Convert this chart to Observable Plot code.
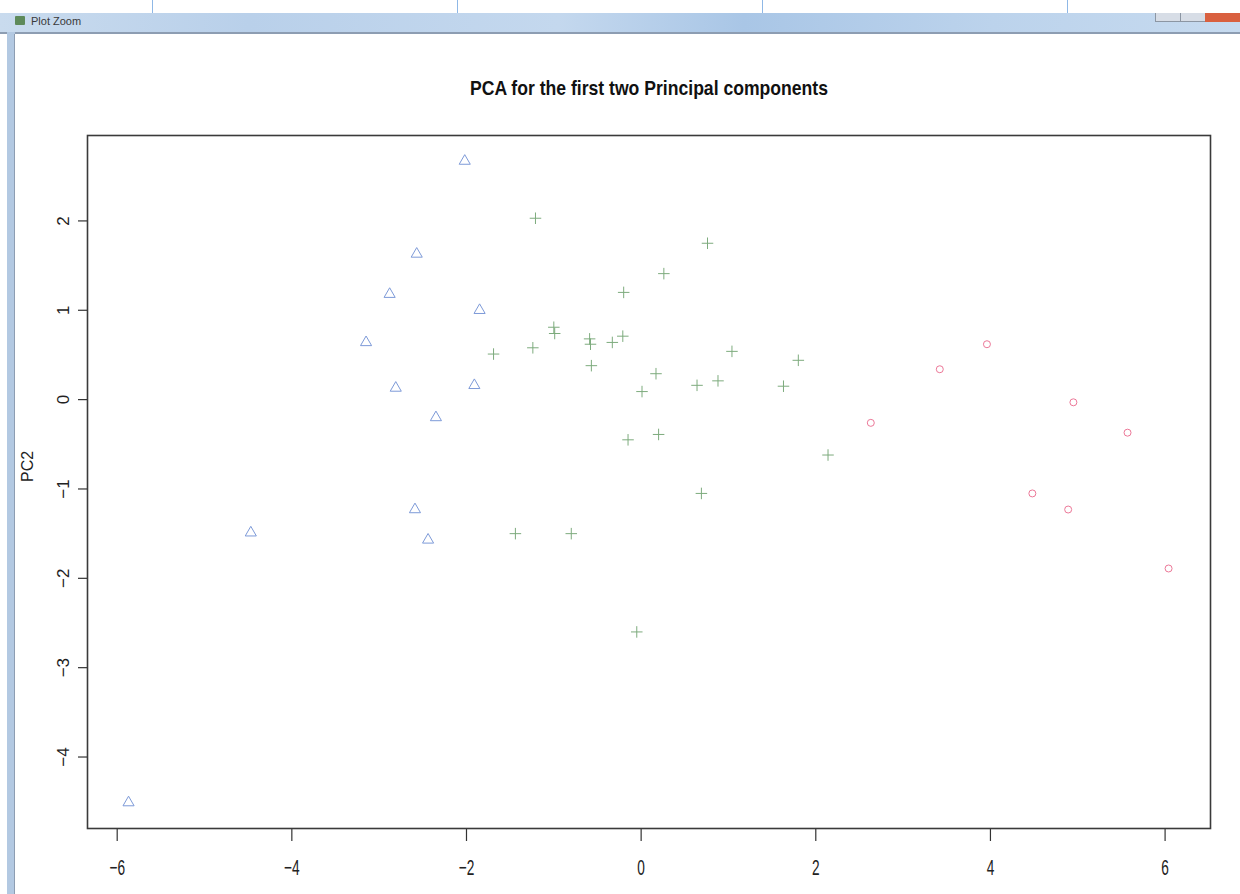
<!DOCTYPE html>
<html>
<head>
<meta charset="utf-8">
<script src="https://cdn.jsdelivr.net/npm/d3@7"></script>
<script src="https://cdn.jsdelivr.net/npm/@observablehq/plot@0.6"></script>
<style>
  html, body { margin: 0; padding: 0; background: #fff; }
  body { width: 1240px; height: 894px; position: relative; overflow: hidden; font-family: "Liberation Sans", Arial, sans-serif; }
  .abs { position: absolute; }
  #chart { position: absolute; left: 0; top: 35px; }
  .vline { position: absolute; top: 0; width: 1px; height: 13px; background: #8fb8e6; }
</style>
</head>
<body>
<!-- window chrome -->
<div class="vline" style="left:152px"></div>
<div class="vline" style="left:457px"></div>
<div class="vline" style="left:762px"></div>
<div class="vline" style="left:1067px"></div>
<div class="abs" style="left:0;top:13px;width:1240px;height:19px;background:linear-gradient(90deg,#c9dbee 0%,#b9d0ea 20%,#c4d8ee 45%,#a9c6e6 60%,#bcd3ec 80%,#c6daef 100%);overflow:hidden;">
  <div class="abs" style="left:15px;top:3px;width:10px;height:9px;background:#5e8a5a;border-radius:1px;"></div>
  <div class="abs" style="left:31px;top:2px;font:11px 'Liberation Sans',Arial,sans-serif;line-height:13px;color:#3a3a3a;">Plot Zoom</div>
  <div class="abs" style="left:1155px;top:0;width:24px;height:8px;background:#d7dde6;border:1px solid #8c96a3;border-top:none;"></div>
  <div class="abs" style="left:1180px;top:0;width:24px;height:8px;background:#d7dde6;border:1px solid #8c96a3;border-top:none;"></div>
  <div class="abs" style="left:1205px;top:0;width:35px;height:9px;background:#d9603f;"></div>
</div>
<div class="abs" style="left:0;top:32px;width:1240px;height:2px;background:#8d9db2;"></div>
<div class="abs" style="left:7px;top:32px;width:8px;height:862px;background:#b3c9e2;"></div>
<div class="abs" style="left:14px;top:34px;width:1px;height:860px;background:#8d9db2;"></div>
<div id="chart"></div>
<script>
// ---- data ----
const title = "PCA for the first two Principal components";
const yLabel = "PC2";
const xTicks = [-6, -4, -2, 0, 2, 4, 6];
const yTicks = [-4, -3, -2, -1, 0, 1, 2];

// group 1: triangles (blue)
const pc1Tri = [-2.02, -2.57, -2.88, -1.85, -3.15, -2.81, -1.91, -2.35, -2.59, -2.44, -4.47, -5.87];
const pc2Tri = [2.67, 1.63, 1.18, 1.00, 0.64, 0.13, 0.16, -0.20, -1.23, -1.57, -1.49, -4.51];

// group 2: pluses (green)
const pc1Plus = [-1.21, 0.76, 0.26, -0.20, -1.00, -0.99, -1.69, -1.24, -0.59, -0.58, -0.33, -0.21, -0.57, 1.04, 1.80, 0.17, 0.01, 0.64, 0.88, 1.63, -0.15, 0.20, 2.14, 0.69, -1.44, -0.80, -0.05];
const pc2Plus = [2.03, 1.75, 1.41, 1.20, 0.81, 0.74, 0.51, 0.58, 0.68, 0.62, 0.64, 0.71, 0.38, 0.54, 0.44, 0.29, 0.09, 0.16, 0.21, 0.15, -0.45, -0.39, -0.62, -1.05, -1.50, -1.50, -2.60];

// group 3: circles (red)
const pc1Circ = [3.96, 3.42, 4.95, 2.63, 5.57, 4.48, 4.89, 6.04];
const pc2Circ = [0.62, 0.34, -0.03, -0.26, -0.37, -1.05, -1.23, -1.89];

const toRows = (xs, ys) => xs.map((x, i) => ({x, y: ys[i]}));
const triRows = toRows(pc1Tri, pc2Tri);
const plusRows = toRows(pc1Plus, pc2Plus);
const circRows = toRows(pc1Circ, pc2Circ);

const plot = Plot.plot({
  width: 1240,
  height: 859,
  marginLeft: 87,
  marginRight: 30,
  marginTop: 100,
  marginBottom: 66,
  style: {fontFamily: "'Liberation Sans', Arial, sans-serif", background: "transparent", color: "#222"},
  x: {domain: [-6.34, 6.52]},
  y: {domain: [-4.80, 2.956]},
  marks: [
    Plot.axisX({ticks: xTicks, tickSize: 13, tickPadding: 18, fontSize: 22, label: null, stroke: "#333", strokeWidth: 1.2}),
    Plot.axisY({ticks: yTicks, tickSize: 9, tickPadding: 10, tickRotate: -90, fontSize: 17, label: null, stroke: "#333", strokeWidth: 1.2}),
    Plot.text([yLabel], {frameAnchor: "left", dx: -60, rotate: -90, fontSize: 16, fill: "#222"}),
    Plot.text([title], {frameAnchor: "top", dy: -55, fontSize: 21, fontWeight: "bold", fill: "#111"}),
    Plot.dot(triRows, {x: "x", y: "y", symbol: "triangle2", r: 5.3, stroke: "#7d9ad8", strokeWidth: 1, fill: "none"}),
    Plot.dot(plusRows, {x: "x", y: "y", symbol: "plus", r: 3.8, stroke: "#7dab7d", strokeWidth: 1, fill: "none"}),
    Plot.dot(circRows, {x: "x", y: "y", symbol: "circle", r: 3.5, stroke: "#ec7898", strokeWidth: 1, fill: "none"}),
    Plot.frame({stroke: "#3a3a3a", strokeWidth: 1.6})
  ]
});
document.getElementById("chart").appendChild(plot);

// condense horizontal text like the reference (squeezed screenshot)
const svg = d3.select(plot);
svg.selectAll('g[aria-label="x-axis tick label"] text').each(function () {
  const w = this.getComputedTextLength();
  this.setAttribute("textLength", (w * 0.62).toFixed(1));
  this.setAttribute("lengthAdjust", "spacingAndGlyphs");
});
svg.selectAll("text").filter(function () { return this.textContent === title; }).each(function () {
  this.setAttribute("textLength", "358");
  this.setAttribute("lengthAdjust", "spacingAndGlyphs");
});
</script>
</body>
</html>
